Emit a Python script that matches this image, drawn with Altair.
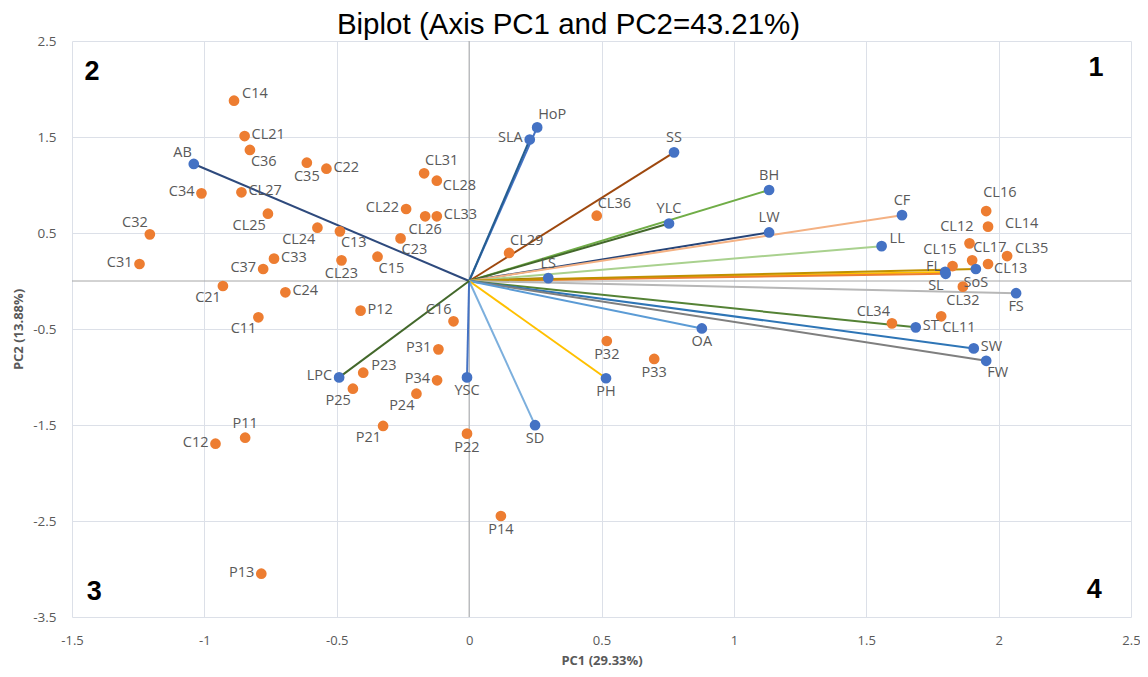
import altair as alt
import pandas as pd

# ---- variables (loadings, blue points + vectors) ----
var_names = ["AB", "HoP", "SLA", "SS", "BH", "YLC", "LW", "CF", "LL", "LS", "FL", "SL",
             "SoS", "FS", "ST", "SW", "FW", "OA", "PH", "SD", "YSC", "LPC"]
var_pc1 = [-1.040, 0.257, 0.229, 0.774, 1.133, 0.755, 1.133, 1.635, 1.558, 0.299, 1.798, 1.800,
           1.914, 2.066, 1.687, 1.906, 1.953, 0.879, 0.517, 0.249, -0.008, -0.491]
var_pc2 = [1.219, 1.600, 1.474, 1.340, 0.948, 0.599, 0.506, 0.686, 0.363, 0.030, 0.095, 0.075,
           0.125, -0.127, -0.483, -0.702, -0.831, -0.494, -1.013, -1.502, -1.004, -1.004]

# ---- genotypes (scores, orange points) ----
geno_names = ["C14", "CL21", "C36", "C35", "C22", "CL31", "CL28", "C34", "CL27", "CL25", "CL22",
              "CL26", "CL33", "C32", "CL24", "C13", "C23", "C15", "CL23", "C33", "C37", "C31",
              "C21", "C24", "C11", "P12", "C16", "P31", "P23", "P25", "P34", "P24", "P21", "P22",
              "P14", "P32", "P33", "C12", "P11", "P13", "CL29", "CL36", "CL16", "CL14", "CL12",
              "CL35", "CL17", "CL13", "CL15", "CL32", "CL34", "CL11"]
geno_pc1 = [-0.888, -0.848, -0.828, -0.613, -0.539, -0.170, -0.122, -1.011, -0.860, -0.760, -0.238,
            -0.166, -0.122, -1.206, -0.573, -0.488, -0.259, -0.346, -0.482, -0.737, -0.778, -1.245,
            -0.930, -0.694, -0.796, -0.410, -0.059, -0.116, -0.400, -0.439, -0.121, -0.199, -0.325,
            -0.008, 0.120, 0.520, 0.699, -0.958, -0.846, -0.785, 0.151, 0.482, 1.953, 1.960, 1.890,
            2.032, 1.900, 1.960, 1.826, 1.865, 1.597, 1.783]
geno_pc2 = [1.878, 1.510, 1.365, 1.232, 1.170, 1.122, 1.045, 0.913, 0.924, 0.701, 0.750,
            0.674, 0.674, 0.486, 0.555, 0.517, 0.444, 0.253, 0.215, 0.233, 0.125, 0.177,
            -0.052, -0.118, -0.378, -0.309, -0.420, -0.712, -0.955, -1.122, -1.034, -1.174, -1.510,
            -1.590, -2.448, -0.625, -0.812, -1.695, -1.632, -3.049, 0.292, 0.680, 0.729, 0.566, 0.392,
            0.260, 0.215, 0.177, 0.156, -0.059, -0.441, -0.368]

# ---- quadrant numbers ----
quad_labels = ["1", "2", "3", "4"]
quad_pc1 = [2.368, -1.424, -1.416, 2.361]
quad_pc2 = [2.219, 2.177, -3.240, -3.219]

# ---- styles (kept separate from the data) ----
var_colors = ["#2E4A7D", "#4472C4", "#255E91", "#9E480E", "#70AD47", "#43682B", "#264478",
              "#F4B183", "#A9D18E", "#997300", "#FFC000", "#ED7D31", "#BF9000", "#B7B7B7",
              "#548235", "#2E75B6", "#7F7F7F", "#5B9BD5", "#FFC000", "#7CAFDD", "#4472C4", "#43682B"]

label_pos = {
    "AB": "al", "HoP": "ar", "SLA": "l", "SS": "a", "BH": "a", "YLC": "a", "LW": "a", "CF": "a",
    "LL": "ru", "LS": "a", "FL": "lu", "SL": "bl", "SoS": "b", "FS": "b", "ST": "r", "SW": "r",
    "FW": "br", "OA": "b", "PH": "b", "SD": "b", "YSC": "b", "LPC": "l",
    "C14": "ru", "CL21": "r", "C36": "br", "C35": "b", "C22": "r", "CL31": "ar", "CL28": "rd",
    "C34": "l", "CL27": "r", "CL25": "bl", "CL22": "l", "CL26": "b", "CL33": "r", "C32": "al",
    "CL24": "bl", "C13": "br", "C23": "br", "C15": "br", "CL23": "b", "C33": "r", "C37": "l",
    "C31": "l", "C21": "bl", "C24": "r", "C11": "bl", "P12": "r", "C16": "al", "P31": "l",
    "P23": "ru", "P25": "bl", "P34": "l", "P24": "bl", "P21": "bl", "P22": "b", "P14": "b",
    "P32": "b", "P33": "b", "C12": "l", "P11": "a", "P13": "l", "CL29": "ar", "CL36": "ar",
    "CL16": "arh", "CL14": "rf", "CL12": "alh", "CL35": "ru", "CL17": "ar", "CL13": "rd",
    "CL15": "alh", "CL32": "b", "CL34": "al", "CL11": "br",
}
pos_style = {
    "r": dict(align="left", baseline="middle", dx=7, dy=-1),
    "ru": dict(align="left", baseline="middle", dx=8, dy=-7),
    "rd": dict(align="left", baseline="middle", dx=6, dy=5),
    "rf": dict(align="left", baseline="middle", dx=17, dy=-3),
    "l": dict(align="right", baseline="middle", dx=-7, dy=-1),
    "lu": dict(align="right", baseline="middle", dx=-4, dy=-5),
    "a": dict(align="center", baseline="bottom", dx=0, dy=-7),
    "b": dict(align="center", baseline="top", dx=0, dy=7),
    "ar": dict(align="left", baseline="bottom", dx=1, dy=-5),
    "arh": dict(align="left", baseline="bottom", dx=-3, dy=-11),
    "al": dict(align="right", baseline="bottom", dx=-2, dy=-4),
    "alh": dict(align="right", baseline="bottom", dx=4, dy=-9),
    "br": dict(align="left", baseline="top", dx=1, dy=5),
    "bl": dict(align="right", baseline="top", dx=-2, dy=5),
}

vdf = pd.DataFrame({"name": var_names, "pc1": var_pc1, "pc2": var_pc2, "kind": "var"})
gdf = pd.DataFrame({"name": geno_names, "pc1": geno_pc1, "pc2": geno_pc2, "kind": "geno"})
pts = pd.concat([gdf, vdf], ignore_index=True)
pts["pos"] = pts["name"].map(label_pos)
qdf = pd.DataFrame({"lab": quad_labels, "pc1": quad_pc1, "pc2": quad_pc2})

FONT = "Open Sans"
GRAY = "#595959"

xscale = alt.Scale(domain=[-1.5, 2.5], nice=False, zero=False)
yscale = alt.Scale(domain=[-3.5, 2.5], nice=False, zero=False)
xaxis = alt.Axis(values=[-1.5, -1, -0.5, 0, 0.5, 1, 1.5, 2, 2.5], labelExpr="'' + datum.value",
                 labelPadding=17, titlePadding=7, labelFlush=False, labelFontSize=13)
yaxis = alt.Axis(values=[2.5, 1.5, 0.5, -0.5, -1.5, -2.5, -3.5], labelExpr="'' + datum.value",
                 labelPadding=16, titleX=-47, titleY=288, labelFlush=False)
XT = "PC1 (29.33%)"
YT = "PC2 (13.88%)"


def X(field):
    return alt.X(field, type="quantitative", scale=xscale, axis=xaxis, title=XT)


def Y(field):
    return alt.Y(field, type="quantitative", scale=yscale, axis=yaxis, title=YT)


one = pd.DataFrame({"z": [0]})
zero_v = alt.Chart(one).mark_rule(color="#A6A6A6", strokeWidth=1).encode(x=X("z"))
zero_h = alt.Chart(one).mark_rule(color="#A6A6A6", strokeWidth=1).encode(y=Y("z"))

vectors = alt.Chart(vdf).transform_calculate(o="0").mark_rule(strokeWidth=2).encode(
    x=X("o"), y=Y("o"), x2="pc1:Q", y2="pc2:Q",
    color=alt.Color("name:N", scale=alt.Scale(domain=var_names, range=var_colors), legend=None),
)

points = alt.Chart(pts).mark_circle(size=115, opacity=1).encode(
    x=X("pc1"), y=Y("pc2"),
    color=alt.Color("kind:N", scale=alt.Scale(domain=["geno", "var"], range=["#ED7D31", "#4472C4"]),
                    legend=None),
)

label_layers = []
for code, st in pos_style.items():
    label_layers.append(
        alt.Chart(pts).transform_filter(alt.datum.pos == code).mark_text(
            font=FONT, fontSize=14.5, color=GRAY, **st
        ).encode(x=X("pc1"), y=Y("pc2"), text="name:N")
    )

quads = alt.Chart(qdf).mark_text(font="Liberation Sans", fontSize=27, fontWeight="bold",
                                 color="black").encode(x=X("pc1"), y=Y("pc2"), text="lab:N")

chart = alt.layer(zero_v, zero_h, vectors, points, *label_layers, quads).resolve_scale(
    color="independent"
).properties(
    width=1059, height=576,
    autosize="none",
    padding={"left": 64, "top": 33, "right": 9, "bottom": 52},
    title=alt.TitleParams("Biplot (Axis PC1 and PC2=43.21%)", font="Liberation Sans", fontSize=29.5,
                          fontWeight="normal", color="black", dx=-33, dy=9, offset=3, anchor="middle"),
).configure_view(stroke=None).configure_axis(
    grid=True, gridColor="#DCE0E8", gridWidth=1, domain=False, ticks=False, tickSize=0,
    labelFont=FONT, labelFontSize=13.5, labelColor=GRAY,
    titleFont=FONT, titleFontSize=13, titleFontWeight="bold", titleColor=GRAY,
)

chart.save("out.html", embed_options={"renderer": "svg", "actions": False})
